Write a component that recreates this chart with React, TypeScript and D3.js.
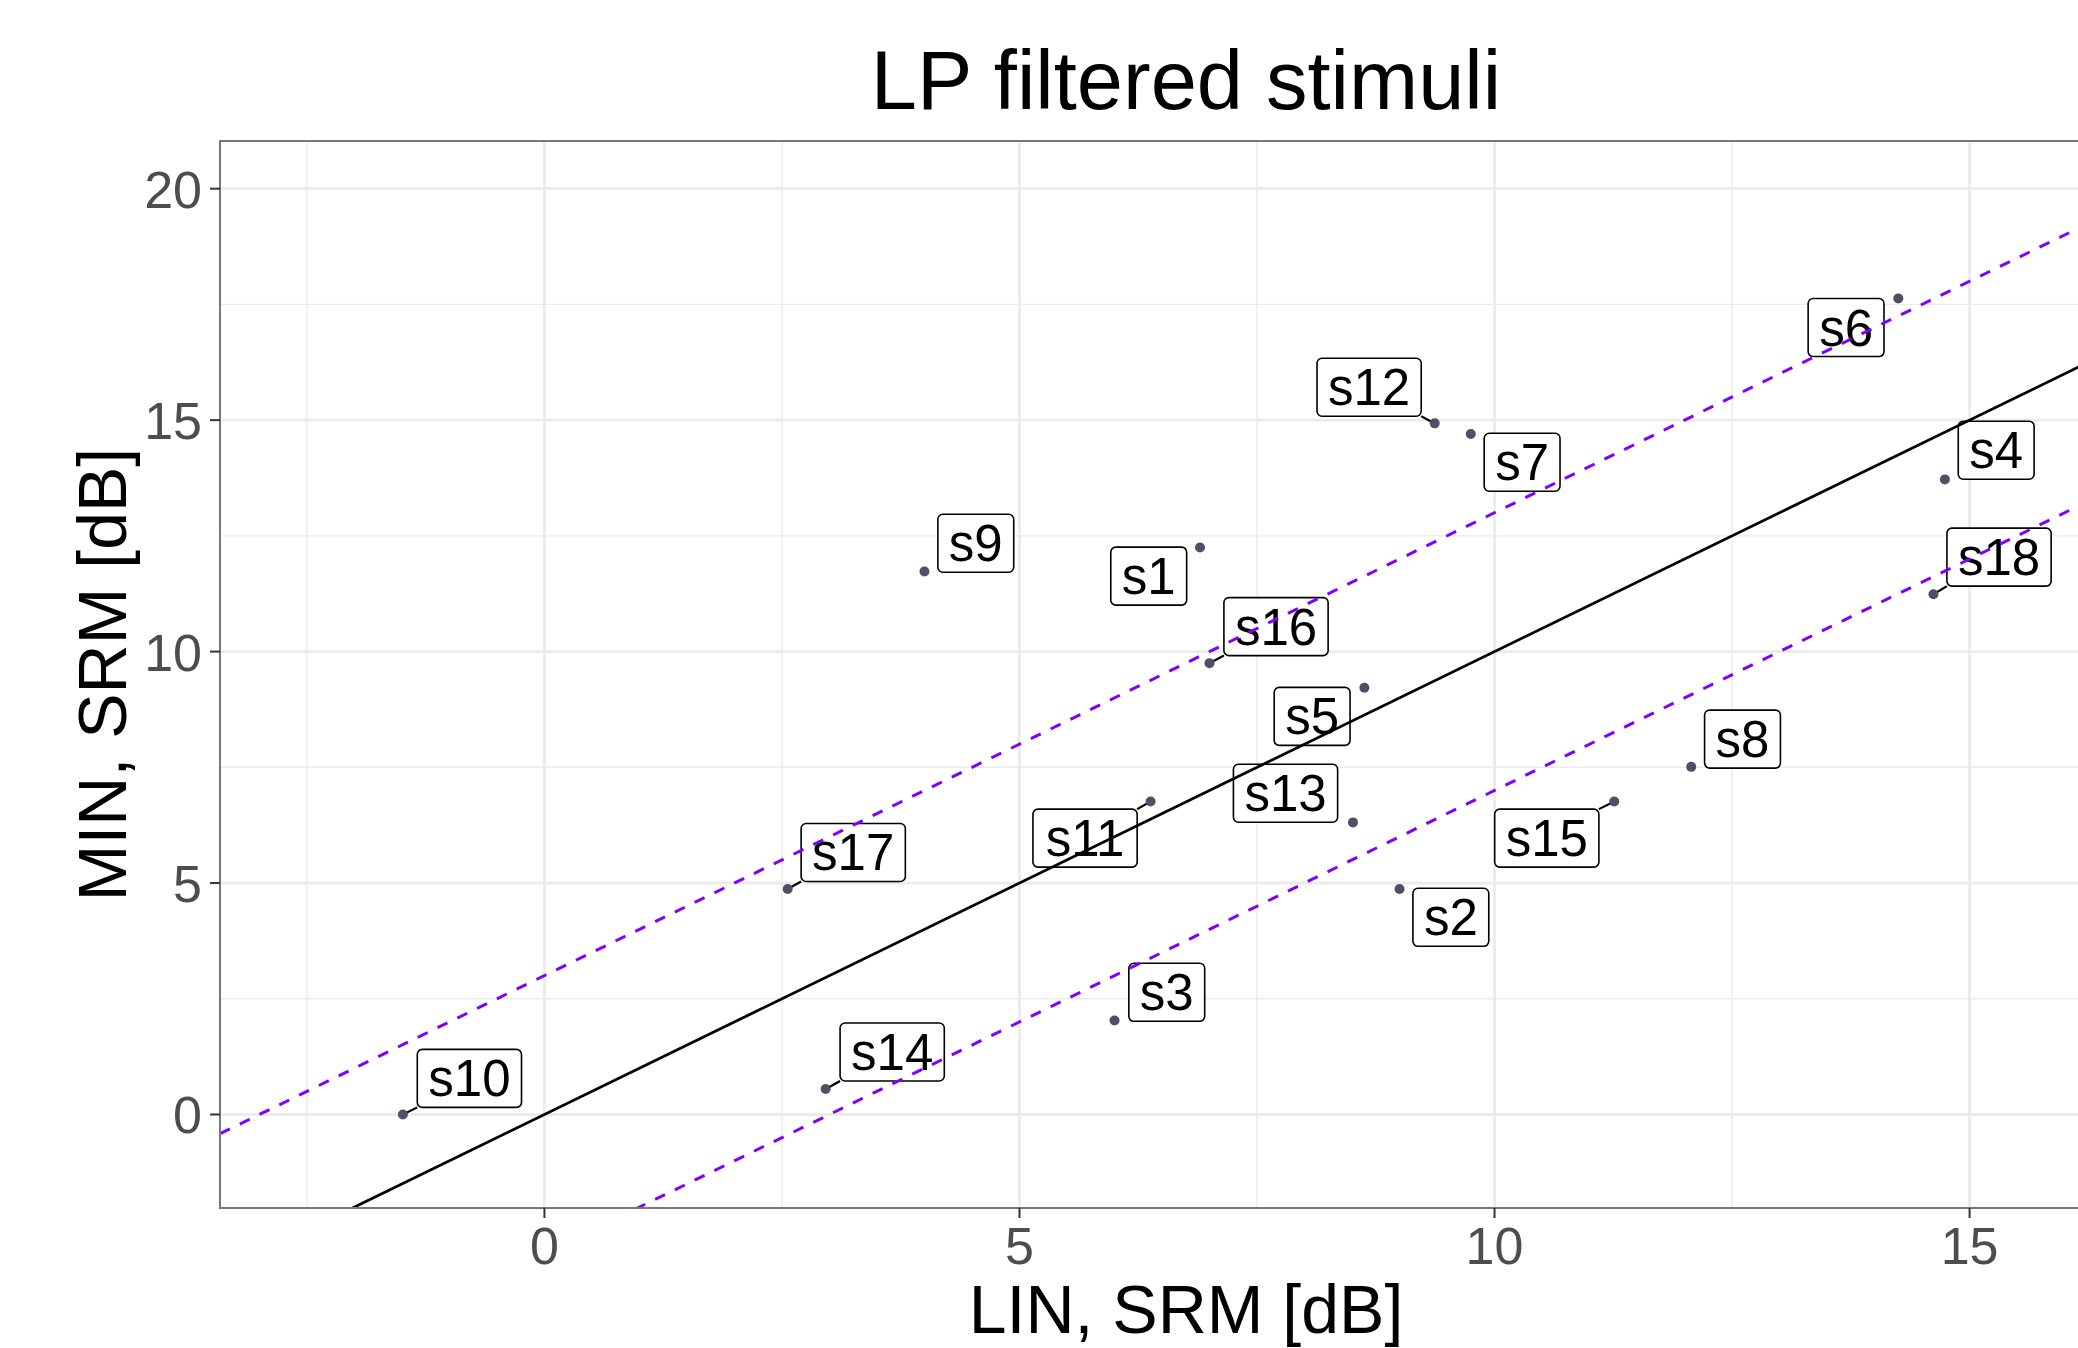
import * as d3 from "d3";
import React from "react";

// stimulus ids and their SRM values (dB)
const stimuli = ["s1", "s2", "s3", "s4", "s5", "s6", "s7", "s8", "s9", "s10", "s11", "s12", "s13", "s14", "s15", "s16", "s17", "s18"];
const linSRM = [6.9, 9.0, 6.0, 14.74, 8.63, 14.25, 9.75, 12.07, 4.0, -1.49, 6.38, 9.37, 8.51, 2.96, 11.26, 7.0, 2.56, 14.62];
const minSRM = [12.25, 4.87, 2.03, 13.72, 9.22, 17.63, 14.7, 7.51, 11.73, 0.0, 6.76, 14.93, 6.31, 0.55, 6.76, 9.75, 4.87, 11.24];

// where the repelled labels ended up (data units)
const labelX = [6.36, 9.54, 6.55, 15.28, 8.08, 13.7, 10.29, 12.61, 4.54, -0.79, 5.69, 8.68, 7.8, 3.66, 10.55, 7.7, 3.25, 15.31];
const labelY = [11.63, 4.26, 2.64, 14.35, 8.6, 17.0, 14.09, 8.11, 12.34, 0.78, 5.97, 15.71, 6.94, 1.35, 5.97, 10.54, 5.66, 12.04];
// labels that got a leader segment
const withSegment = ["s10", "s11", "s12", "s14", "s15", "s16", "s17", "s18"];

const xTickValues = [0, 5, 10, 15];
const yTickValues = [0, 5, 10, 15, 20];
const xMinor = [-2.5, 2.5, 7.5, 12.5];
const yMinor = [2.5, 7.5, 12.5, 17.5];
// reference lines: identity and +/- 3 dB
const refOffsets = [0, 3, -3];

export default function App() {
  const width = 2078;
  const height = 1348;
  const panel = { left: 220, top: 141, right: 2152, bottom: 1208 };
  const font = "'Liberation Sans', Arial, sans-serif";

  const x = d3.scaleLinear().domain([-3.415, 16.92]).range([panel.left, panel.right]);
  const y = d3.scaleLinear().domain([-2.02, 21.03]).range([panel.bottom, panel.top]);

  const labelFont = 51;
  const pad = 11;
  const boxH = 58;

  const labels = stimuli.map((name, i) => {
    const w = labelFont * (0.5 + 0.556 * (name.length - 1)) + 2 * pad;
    const cx = x(labelX[i]);
    const cy = y(labelY[i]);
    const px = x(linSRM[i]);
    const py = y(minSRM[i]);
    // nearest point of the box to the data point
    const nx = Math.max(cx - w / 2, Math.min(px, cx + w / 2));
    const ny = Math.max(cy - boxH / 2, Math.min(py, cy + boxH / 2));
    return { name, w, cx, cy, px, py, nx, ny, seg: withSegment.includes(name) };
  });

  const dom = x.domain();
  const refLine = (o: number) =>
    d3
      .line<number>()
      .x((d) => x(d))
      .y((d) => y(d + o))(dom) || "";

  return (
    <svg
      width={width}
      height={height}
      style={{ position: "absolute", left: 0, top: 0, background: "white" }}
      fontFamily={font}
    >
      <defs>
        <clipPath id="panel">
          <rect x={panel.left} y={panel.top} width={panel.right - panel.left} height={panel.bottom - panel.top} />
        </clipPath>
      </defs>
      <rect x={0} y={0} width={width} height={height} fill="white" />

      <g clipPath="url(#panel)">
        {xMinor.map((v) => (
          <line key={"xm" + v} x1={x(v)} x2={x(v)} y1={panel.top} y2={panel.bottom} stroke="#EBEBEB" strokeWidth={1.4} />
        ))}
        {yMinor.map((v) => (
          <line key={"ym" + v} x1={panel.left} x2={panel.right} y1={y(v)} y2={y(v)} stroke="#EBEBEB" strokeWidth={1.4} />
        ))}
        {xTickValues.map((v) => (
          <line key={"xg" + v} x1={x(v)} x2={x(v)} y1={panel.top} y2={panel.bottom} stroke="#EBEBEB" strokeWidth={2.8} />
        ))}
        {yTickValues.map((v) => (
          <line key={"yg" + v} x1={panel.left} x2={panel.right} y1={y(v)} y2={y(v)} stroke="#EBEBEB" strokeWidth={2.8} />
        ))}

        {labels.map((l) =>
          l.seg ? (
            <line key={"seg" + l.name} x1={l.px} y1={l.py} x2={l.nx} y2={l.ny} stroke="black" strokeWidth={2.2} />
          ) : null
        )}
        {labels.map((l) => (
          <circle key={"pt" + l.name} cx={l.px} cy={l.py} r={5} fill="#4F4F68" />
        ))}
        {labels.map((l) => (
          <g key={"lb" + l.name}>
            <rect
              x={l.cx - l.w / 2}
              y={l.cy - boxH / 2}
              width={l.w}
              height={boxH}
              rx={5}
              fill="white"
              stroke="black"
              strokeWidth={1.6}
            />
            <text x={l.cx} y={l.cy + 18} textAnchor="middle" fontSize={labelFont} fill="black">
              {l.name}
            </text>
          </g>
        ))}

        {refOffsets.map((o) => (
          <path
            key={"ref" + o}
            d={refLine(o)}
            fill="none"
            stroke={o === 0 ? "black" : "#7F00FF"}
            strokeWidth={o === 0 ? 2.8 : 3}
            strokeDasharray={o === 0 ? undefined : "11,11"}
          />
        ))}
      </g>

      <rect
        x={panel.left}
        y={panel.top}
        width={panel.right - panel.left}
        height={panel.bottom - panel.top}
        fill="none"
        stroke="#777"
        strokeWidth={2}
      />

      {xTickValues.map((v) => (
        <g key={"xt" + v}>
          <line x1={x(v)} x2={x(v)} y1={panel.bottom} y2={panel.bottom + 10} stroke="#333" strokeWidth={2} />
          <text x={x(v)} y={1264} textAnchor="middle" fontSize={52} fill="#4D4D4D">
            {v}
          </text>
        </g>
      ))}
      {yTickValues.map((v) => (
        <g key={"yt" + v}>
          <line x1={panel.left - 10} x2={panel.left} y1={y(v)} y2={y(v)} stroke="#333" strokeWidth={2} />
          <text x={202} y={y(v) + 19} textAnchor="end" fontSize={52} fill="#4D4D4D">
            {v}
          </text>
        </g>
      ))}

      <text x={1186} y={109} textAnchor="middle" fontSize={83} fill="black">
        LP filtered stimuli
      </text>
      <text x={1186} y={1333} textAnchor="middle" fontSize={68} fill="black">
        LIN, SRM [dB]
      </text>
      <text
        transform={`translate(126, ${(panel.top + panel.bottom) / 2}) rotate(-90)`}
        textAnchor="middle"
        fontSize={68}
        fill="black"
      >
        MIN, SRM [dB]
      </text>
    </svg>
  );
}
